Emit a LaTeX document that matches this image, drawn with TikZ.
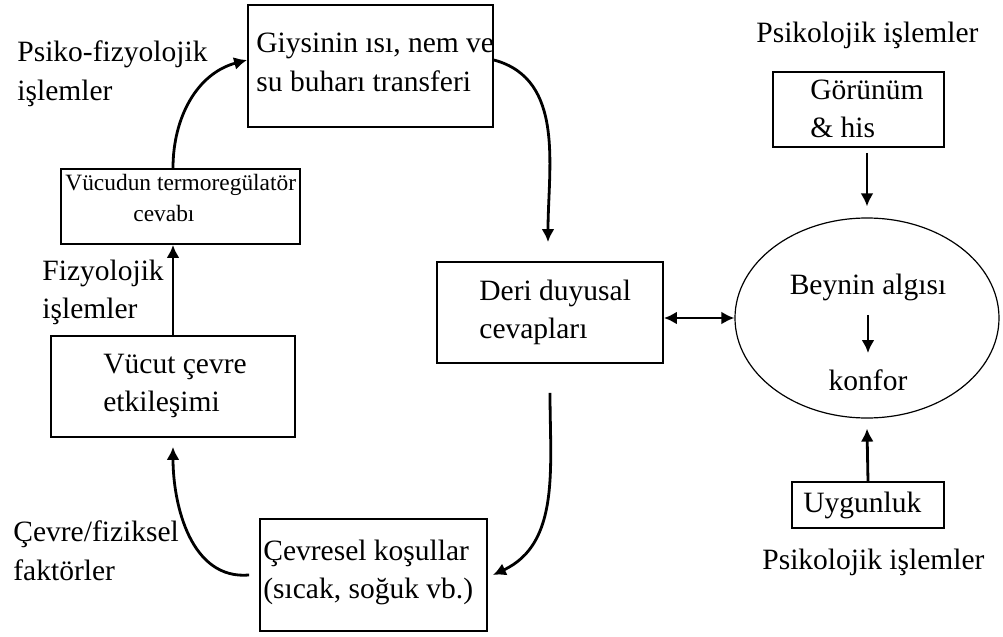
\documentclass[tikz,border=0pt]{standalone}
\usepackage{fontspec}
\setmainfont{Liberation Serif}
\usetikzlibrary{shapes.geometric, arrows.meta, positioning}

\tikzset{
  >={Latex[length=6.5pt,width=6.5pt]},
  box/.style={draw, line width=0.9pt, inner sep=0pt},
  txt/.style={inner sep=0pt, anchor=west, align=left, font=\fontsize{14.75}{19.3}\selectfont},
  smalltxt/.style={inner sep=0pt, anchor=west, align=left, font=\fontsize{11.7}{15.5}\selectfont},
  arr/.style={line width=1.4pt, ->},
}

\begin{document}
\begin{tikzpicture}[x=0.5pt, y=-0.5pt]
\useasboundingbox (0,0) rectangle (1003,637);

% Boxes of the loop
\node[box, minimum width=122.5pt, minimum height=61pt] (giysi) at (370.5,66) {};
\node[box, minimum width=119.5pt, minimum height=37.5pt] (termo) at (180.5,206.5) {};
\node[box, minimum width=122pt, minimum height=50.5pt] (vucut) at (173,386.5) {};
\node[box, minimum width=113.5pt, minimum height=56pt] (cevresel) at (373.5,575) {};
\node[box, minimum width=113pt, minimum height=50.5pt] (deri) at (550,312.5) {};

% Right side
\node[box, minimum width=85.5pt, minimum height=37.5pt] (gorunum) at (858.5,109.5) {};
\node[box, minimum width=76pt, minimum height=23pt] (uygun) at (868,505) {};
\node[draw, ellipse, line width=0.6pt, inner sep=0pt, minimum width=132pt, minimum height=100pt] (beyin) at (867,318) {};

% Box texts
\node[txt] (giysitxt) at (256,62.5) {Giysinin ısı, nem ve\\su buharı transferi};
\node[smalltxt] (termotxt) at (65,197.5) {Vücudun termoregülatör\\\hspace*{34pt}cevabı};
\node[txt] (vucuttxt) at (103,386) {Vücut çevre\\etkileşimi};
\node[txt] (cevreseltxt) at (263,572.5) {Çevresel koşullar\\(sıcak, soğuk vb.)};
\node[txt] (deritxt) at (479,312.5) {Deri duyusal\\cevapları};
\node[txt] (gorunumtxt) at (810,109) {Görünüm\\\& his};
\node[txt] (uyguntxt) at (803,505) {Uygunluk};
\node[txt, anchor=center] (alg) at (868,287) {Beynin algısı};
\node[txt, anchor=center] (konfor) at (868,380) {konfor};

% Side labels
\node[txt] (psiko) at (17,74) {Psiko-fizyolojik\\işlemler};
\node[txt] (fizyo) at (42,292.5) {Fizyolojik\\işlemler};
\node[txt] (fizik) at (13,551) {Çevre/fiziksel\\faktörler};
\node[txt] (psikust) at (756,35) {Psikolojik işlemler};
\node[txt] (psikalt) at (762,562) {Psikolojik işlemler};

% Loop arrows
\draw[arr] (vucut.north) -- (vucut.north |- termo.south);
\draw[arr] (vucut.north |- termo.north) to[out=90, in=195] ([yshift=3pt]giysi.west);
\draw[arr] ([yshift=3pt]giysi.east) to[out=-15, in=90] ([xshift=-1pt,yshift=9.5pt]deri.north);
\draw[arr] ([yshift=-14.5pt]deri.south) to[out=-90, in=25] ([xshift=2.5pt]cevresel.east);
\draw[arr] ([xshift=-5pt]cevresel.west) to[out=185, in=-90] ([yshift=-4.5pt]vucut.south);

% Arrows to the brain
\draw[line width=1.4pt, <->] (deri.east |- beyin.west) -- (beyin.west);
\draw[arr] (beyin.north |- gorunum.south) ++(0,5) -- ([yshift=5.5pt]beyin.north);
\draw[arr] (uygun.north) -- ([yshift=-5pt]beyin.south);
\draw[arr] ([yshift=-7pt]alg.south) -- ([yshift=8pt]konfor.north);
\end{tikzpicture}
\end{document}
